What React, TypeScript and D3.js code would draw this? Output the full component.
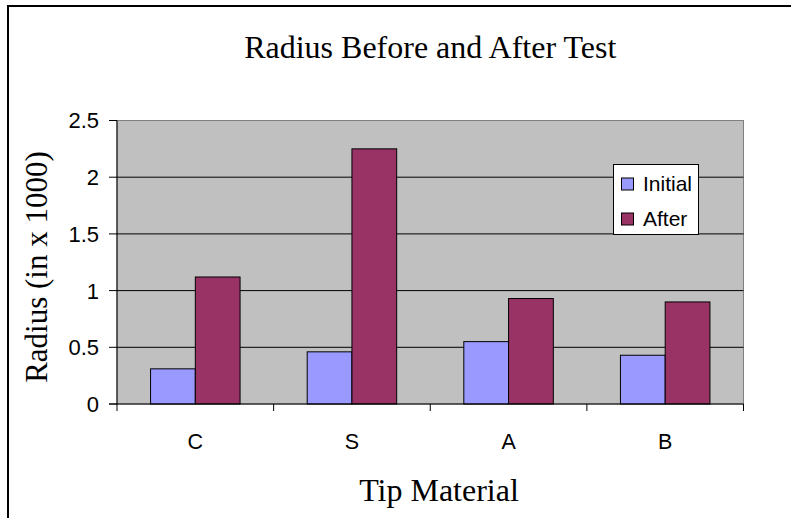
import React from "react";
import * as d3 from "d3";

const categories = ["C", "S", "A", "B"];
const seriesNames = ["Initial", "After"];
const initialValues = [0.31, 0.46, 0.55, 0.43];
const afterValues = [1.12, 2.25, 0.93, 0.9];
const yTicks = [0, 0.5, 1, 1.5, 2, 2.5];
const seriesColors = ["#9999FF", "#993366"];

const W = 791;
const H = 518;
const plot = { left: 117, right: 743.5, top: 120.5, bottom: 404 };

export default function App() {
  const x = d3.scaleBand<string>().domain(categories).range([plot.left, plot.right]).padding(0);
  const xs = d3
    .scaleBand<string>()
    .domain(seriesNames)
    .range([0, x.bandwidth()])
    .paddingInner(0)
    .paddingOuter(0.75);
  const y = d3.scaleLinear().domain([0, 2.5]).range([plot.bottom, plot.top]);
  const values = [initialValues, afterValues];
  const cx = (plot.left + plot.right) / 2;
  const edges = [...categories.map((c) => x(c) as number), plot.right];

  return (
    <div style={{ position: "absolute", left: 0, top: 0, width: W, height: H, overflow: "hidden" }}>
      <svg width={W} height={H} style={{ display: "block" }}>
        <rect x={0} y={0} width={W} height={H} fill="#ffffff" />
        <rect x={8} y={6} width={W + 20} height={H + 20} fill="#ffffff" stroke="#000" strokeWidth={2} />
        <text
          x={cx}
          y={57.5}
          textAnchor="middle"
          fontFamily="'Liberation Serif', 'Times New Roman', serif"
          fontSize={32}
          fill="#000"
        >
          Radius Before and After Test
        </text>
        <rect
          x={plot.left}
          y={plot.top}
          width={plot.right - plot.left}
          height={plot.bottom - plot.top}
          fill="#C0C0C0"
          stroke="#808080"
          strokeWidth={1}
        />
        {yTicks.slice(1, -1).map((t) => (
          <line key={"g" + t} x1={plot.left} x2={plot.right} y1={y(t)} y2={y(t)} stroke="#000" strokeWidth={1} />
        ))}
        {categories.map((c, i) =>
          seriesNames.map((s, j) => (
            <rect
              key={c + s}
              x={(x(c) as number) + (xs(s) as number)}
              y={y(values[j][i])}
              width={xs.bandwidth()}
              height={y(0) - y(values[j][i])}
              fill={seriesColors[j]}
              stroke="#000"
              strokeWidth={1}
            />
          ))
        )}
        <line x1={plot.left} x2={plot.left} y1={plot.top} y2={plot.bottom + 0.5} stroke="#000" strokeWidth={1} />
        <line x1={plot.left - 8} x2={plot.right} y1={plot.bottom} y2={plot.bottom} stroke="#000" strokeWidth={1} />
        {yTicks.map((t) => (
          <g key={"t" + t}>
            <line x1={plot.left - 8} x2={plot.left} y1={y(t)} y2={y(t)} stroke="#000" strokeWidth={1} />
            <text
              x={99}
              y={y(t)}
              dy="0.36em"
              textAnchor="end"
              fontFamily="'Liberation Sans', Arial, sans-serif"
              fontSize={22}
              fill="#000"
            >
              {String(t)}
            </text>
          </g>
        ))}
        {edges.map((e, i) => (
          <line key={"xe" + i} x1={e} x2={e} y1={plot.bottom} y2={plot.bottom + 7} stroke="#000" strokeWidth={1} />
        ))}
        {categories.map((c) => (
          <text
            key={"xl" + c}
            x={(x(c) as number) + x.bandwidth() / 2}
            y={449}
            textAnchor="middle"
            fontFamily="'Liberation Sans', Arial, sans-serif"
            fontSize={21.5}
            fill="#000"
          >
            {c}
          </text>
        ))}
        <text
          x={439}
          y={501}
          textAnchor="middle"
          fontFamily="'Liberation Serif', 'Times New Roman', serif"
          fontSize={32}
          fill="#000"
        >
          Tip Material
        </text>
        <text
          transform="translate(47, 267) rotate(-90)"
          textAnchor="middle"
          fontFamily="'Liberation Serif', 'Times New Roman', serif"
          fontSize={31}
          fill="#000"
        >
          Radius (in x 1000)
        </text>
        <rect x={613.5} y={164.5} width={85} height={70} fill="#fff" stroke="#000" strokeWidth={1} />
        {seriesNames.map((s, j) => (
          <g key={"lg" + s}>
            <rect x={621.5} y={178 + j * 35} width={12} height={12} fill={seriesColors[j]} stroke="#000" strokeWidth={1} />
            <text
              x={643}
              y={191 + j * 35}
              fontFamily="'Liberation Sans', Arial, sans-serif"
              fontSize={21}
              fill="#000"
            >
              {s}
            </text>
          </g>
        ))}
      </svg>
    </div>
  );
}
